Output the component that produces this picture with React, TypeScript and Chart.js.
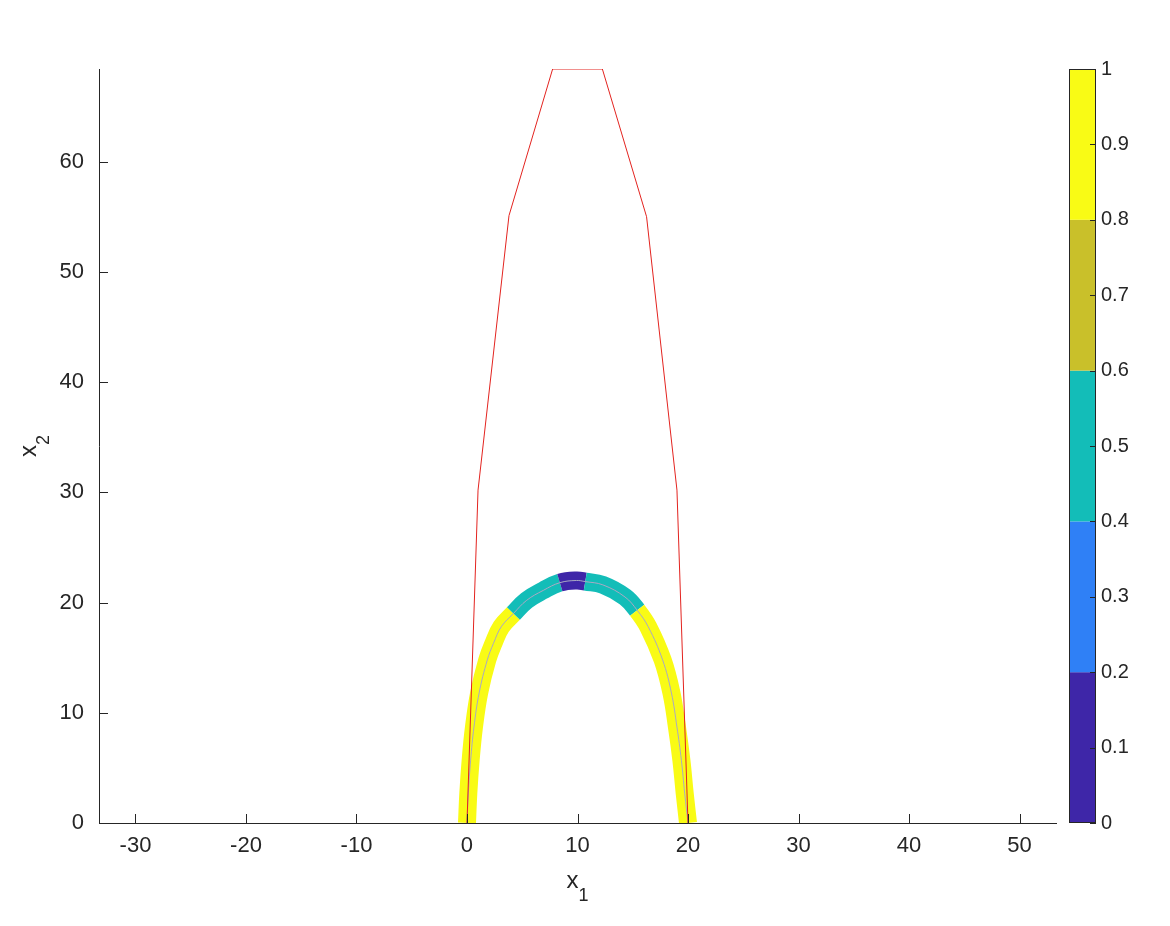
import React, { useEffect, useRef } from "react";
import { Chart, registerables } from "chart.js";
Chart.register(...registerables);

const xTicks = [-30, -20, -10, 0, 10, 20, 30, 40, 50];
const yTicks = [0, 10, 20, 30, 40, 50, 60];
const cbTicks = [0, 0.1, 0.2, 0.3, 0.4, 0.5, 0.6, 0.7, 0.8, 0.9, 1];
const cbEdges = [0, 0.2, 0.4, 0.6, 0.8, 1];
const cbColors = ["#3E26A8", "#2F80F6", "#13BDB8", "#C9C02A", "#F9FB15"];
const xLimits = [-33.3, 53.3];
const yLimits = [0, 68.4];

// centre line of the coloured band
const arcX1 = [0, 0.12, 0.33, 0.63, 1.1, 1.84, 2.4, 3.1, 4.2, 5.4, 6.9, 8.4, 9.9, 10.7, 12.3, 14.3, 15.4, 16.4, 17.7, 18.5, 19.0, 19.4, 19.7, 20.0];
const arcX2 = [0, 2.7, 5.7, 8.7, 11.8, 14.8, 16.3, 17.8, 19.0, 20.2, 21.1, 21.8, 22.0, 21.9, 21.6, 20.5, 19.3, 17.8, 14.8, 11.8, 8.7, 5.7, 2.7, 0];
const arcLevel = [0.9, 0.9, 0.9, 0.9, 0.9, 0.9, 0.9, 0.9, 0.5, 0.5, 0.5, 0.1, 0.1, 0.5, 0.5, 0.5, 0.9, 0.9, 0.9, 0.9, 0.9, 0.9, 0.9, 0.9];

// red boundary
const boundX1 = [0, 1.0, 3.8, 7.75, 12.25, 16.25, 19.0, 20.0];
const boundX2 = [0, 30.2, 55.1, 68.4, 68.4, 55.0, 30.2, 0];

const FONT = '"Liberation Sans", Arial, Helvetica, sans-serif';
const TXT = "#262626";

function levelColor(v: number) {
  let i = 0;
  while (i < cbEdges.length - 2 && v >= cbEdges[i + 1]) i++;
  return cbColors[i];
}

const decorPlugin = {
  id: "decor",
  afterDraw(chart: any) {
    const ctx = chart.ctx;
    const ca = chart.chartArea;
    const xs = chart.scales.x;
    const ys = chart.scales.y;
    const cb = chart.scales.cb;
    ctx.save();
    // inward ticks
    ctx.strokeStyle = TXT;
    ctx.lineWidth = 1;
    ctx.beginPath();
    xTicks.forEach((v) => {
      const px = Math.round(xs.getPixelForValue(v)) + 0.5;
      ctx.moveTo(px, ca.bottom);
      ctx.lineTo(px, ca.bottom - 9);
    });
    yTicks.forEach((v) => {
      const py = Math.round(ys.getPixelForValue(v)) + 0.5;
      ctx.moveTo(ca.left, py);
      ctx.lineTo(ca.left + 9, py);
    });
    ctx.stroke();

    // colorbar
    const cbL = ca.right + 13;
    const cbR = ca.right + 40;
    for (let i = 0; i < cbColors.length; i++) {
      const t = cb.getPixelForValue(cbEdges[i + 1]);
      const b = cb.getPixelForValue(cbEdges[i]);
      ctx.fillStyle = cbColors[i];
      ctx.fillRect(cbL, t, cbR - cbL, b - t);
    }
    ctx.strokeStyle = TXT;
    ctx.strokeRect(cbL + 0.5, Math.round(cb.getPixelForValue(1)) + 0.5, cbR - cbL - 1, Math.round(cb.getPixelForValue(0) - cb.getPixelForValue(1)) - 1);
    ctx.beginPath();
    cbTicks.forEach((v) => {
      const py = Math.round(cb.getPixelForValue(v)) + 0.5;
      ctx.moveTo(cbR, py);
      ctx.lineTo(cbR - 6, py);
    });
    ctx.stroke();

    // axis titles
    ctx.fillStyle = TXT;
    ctx.textBaseline = "alphabetic";
    ctx.textAlign = "left";
    ctx.font = `24px ${FONT}`;
    const xw = ctx.measureText("x").width;
    ctx.font = `18px ${FONT}`;
    const sw = ctx.measureText("1").width;
    const tot = xw + sw;
    const cx = (ca.left + ca.right) / 2;
    ctx.font = `24px ${FONT}`;
    ctx.fillText("x", cx - tot / 2, ca.bottom + 65);
    ctx.font = `18px ${FONT}`;
    ctx.fillText("1", cx - tot / 2 + xw, ca.bottom + 78);

    const cy = (ca.top + ca.bottom) / 2;
    ctx.translate(36, cy);
    ctx.rotate(-Math.PI / 2);
    ctx.font = `24px ${FONT}`;
    ctx.fillText("x", -tot / 2, 0);
    ctx.font = `18px ${FONT}`;
    ctx.fillText("2", -tot / 2 + xw, 13);
    ctx.restore();
  },
};

export default function App() {
  const ref = useRef<HTMLCanvasElement | null>(null);
  useEffect(() => {
    if (!ref.current) return;
    const arcData = arcX1.map((x, i) => ({ x, y: arcX2[i] }));
    const boundData = boundX1.map((x, i) => ({ x, y: boundX2[i] }));
    const chart = new Chart(ref.current, {
      type: "scatter",
      data: {
        datasets: [
          {
            data: boundData,
            showLine: true,
            borderColor: "#E3231F",
            borderWidth: 1,
            pointRadius: 0,
            tension: 0,
            order: 1,
          },
          {
            data: arcData,
            showLine: true,
            borderColor: "#A9A9C4",
            borderWidth: 1,
            pointRadius: 0,
            tension: 0.4,
            order: 2,
          },
          {
            data: arcData,
            showLine: true,
            borderWidth: 18,
            borderCapStyle: "butt",
            borderJoinStyle: "round",
            pointRadius: 0,
            tension: 0.4,
            order: 3,
            segment: {
              borderColor: (c: any) => levelColor(arcLevel[c.p0DataIndex]),
            },
          } as any,
        ],
      },
      options: {
        animation: false,
        responsive: false,
        layout: { padding: { top: 69, left: 0, right: 0, bottom: 0 } },
        plugins: { legend: { display: false }, tooltip: { enabled: false } },
        events: [],
        font: { family: FONT },
        scales: {
          x: {
            type: "linear",
            min: xLimits[0],
            max: xLimits[1],
            afterBuildTicks: (s: any) => {
              s.ticks = xTicks.map((v) => ({ value: v }));
            },
            afterFit: (s: any) => {
              s.height = 103;
            },
            grid: { display: false, drawTicks: false },
            border: { display: true, color: TXT, width: 1 },
            ticks: { color: TXT, font: { size: 22, family: FONT }, padding: 10, autoSkip: false, maxRotation: 0 },
          },
          y: {
            type: "linear",
            min: yLimits[0],
            max: yLimits[1],
            afterBuildTicks: (s: any) => {
              s.ticks = yTicks.map((v) => ({ value: v }));
            },
            afterFit: (s: any) => {
              s.width = 99;
            },
            grid: { display: false, drawTicks: false },
            border: { display: true, color: TXT, width: 1 },
            ticks: { color: TXT, font: { size: 22, family: FONT }, padding: 15, autoSkip: false },
          },
          cb: {
            type: "linear",
            position: "right",
            min: 0,
            max: 1,
            afterBuildTicks: (s: any) => {
              s.ticks = cbTicks.map((v) => ({ value: v }));
            },
            afterFit: (s: any) => {
              s.width = 114;
            },
            grid: { display: false, drawTicks: false },
            border: { display: false },
            ticks: {
              color: TXT,
              font: { size: 20, family: FONT },
              padding: 45,
              autoSkip: false,
              callback: (v: any) => String(Math.round(Number(v) * 10) / 10),
            },
          },
        },
      } as any,
      plugins: [decorPlugin],
    });
    return () => chart.destroy();
  }, []);
  return (
    <div style={{ position: "absolute", left: 0, top: 0, width: 1170, height: 926, background: "#fff" }}>
      <canvas ref={ref} width={1170} height={926} />
    </div>
  );
}
